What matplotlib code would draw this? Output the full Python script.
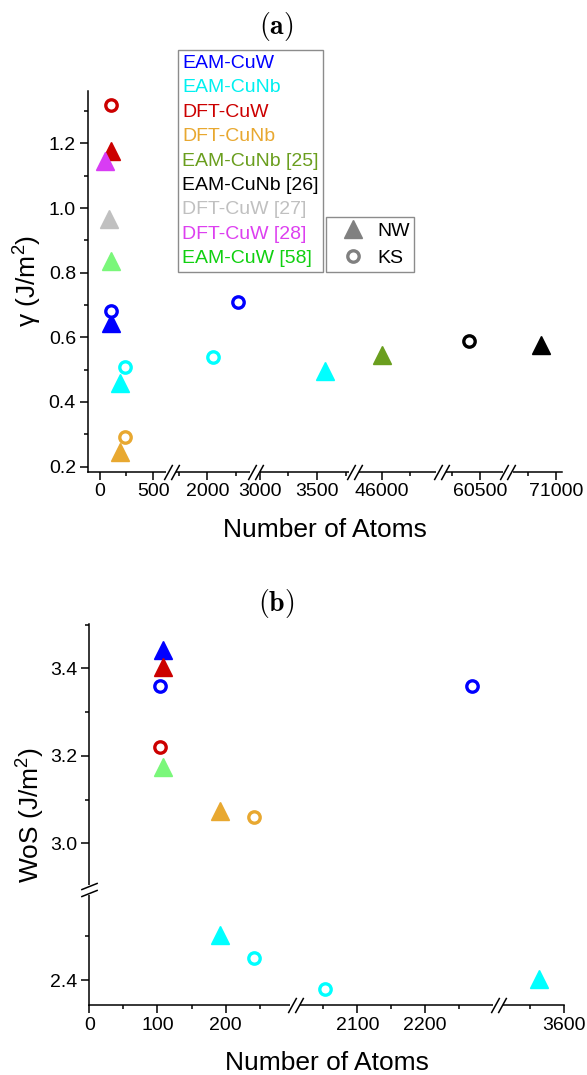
import numpy as np
import matplotlib
matplotlib.use('Agg')
import matplotlib.pyplot as plt
from matplotlib.lines import Line2D
from matplotlib.path import Path

plt.rcParams['font.family'] = ['Liberation Sans', 'DejaVu Sans']
plt.rcParams['mathtext.fontset'] = 'custom'
plt.rcParams['mathtext.rm'] = 'Liberation Sans'
plt.rcParams['mathtext.it'] = 'Liberation Sans:italic'
plt.rcParams['mathtext.bf'] = 'Liberation Sans:bold'

# legend entries and colours
series_names = ['EAM-CuW', 'EAM-CuNb', 'DFT-CuW', 'DFT-CuNb', 'EAM-CuNb [25]',
                'EAM-CuNb [26]', 'DFT-CuW [27]', 'DFT-CuW [28]', 'EAM-CuW [58]']
text_colors = ['#0000ff', '#00f0f0', '#cc0000', '#e8a830', '#6a9e1e',
               '#000000', '#c0c0c0', '#dd40f0', '#10d010']
marker_colors = ['#0000ff', '#00ffff', '#cc0000', '#e8a830', '#6a9e1e',
                 '#000000', '#c0c0c0', '#d83cf4', '#7af77a']

# (a) interface energy gamma
gamma_series = ['DFT-CuW', 'DFT-CuW', 'DFT-CuW [28]', 'DFT-CuW [27]', 'EAM-CuW [58]',
                'EAM-CuW', 'EAM-CuW', 'EAM-CuNb', 'EAM-CuNb', 'DFT-CuNb', 'DFT-CuNb',
                'EAM-CuW', 'EAM-CuNb', 'EAM-CuNb', 'EAM-CuNb [25]', 'EAM-CuNb [26]',
                'EAM-CuNb [26]']
gamma_kind = ['KS', 'NW', 'NW', 'NW', 'NW', 'KS', 'NW', 'KS', 'NW', 'KS', 'NW',
              'KS', 'KS', 'NW', 'NW', 'KS', 'NW']
gamma_atoms = [103, 108, 48, 85, 104, 103, 108, 241, 192, 241, 192,
               2270, 2052, 3565, 46000, 60400, 70870]
gamma_values = [1.32, 1.176, 1.146, 0.965, 0.835, 0.683, 0.645, 0.509, 0.458, 0.293, 0.246,
                0.71, 0.539, 0.495, 0.546, 0.588, 0.575]

# (b) work of separation
wos_series = ['EAM-CuW', 'DFT-CuW', 'EAM-CuW', 'DFT-CuW', 'EAM-CuW [58]', 'DFT-CuNb',
              'DFT-CuNb', 'EAM-CuW', 'EAM-CuNb', 'EAM-CuNb', 'EAM-CuNb', 'EAM-CuNb']
wos_kind = ['NW', 'NW', 'KS', 'KS', 'NW', 'NW', 'KS', 'KS', 'NW', 'KS', 'KS', 'NW']
wos_atoms = [108, 108, 103, 103, 108, 192, 241, 2270, 192, 241, 2052, 3563]
wos_values = [3.443, 3.404, 3.36, 3.22, 3.175, 3.074, 3.06, 3.36, 2.503, 2.451, 2.38, 2.403]

gamma_xticks = [0, 500, 2000, 3000, 3500, 46000, 60500, 71000]
gamma_xminor = [250, 1750, 2250, 3250, 3750, 46250, 60250, 70750]
gamma_yticks = [0.2, 0.4, 0.6, 0.8, 1.0, 1.2]
gamma_yminor = [0.3, 0.5, 0.7, 0.9, 1.1, 1.3]
wos_xticks = [0, 100, 200, 2100, 2200, 3600]
wos_xminor = [50, 150, 250, 2050, 2150, 2250, 3550]
wos_yticks = [2.4, 3.0, 3.2, 3.4]
wos_yminor = [2.5, 3.1, 3.3, 3.5]

W, H = 587, 1075

# broken axes: (data_lo, data_hi, px_lo, px_hi), figure pixels
gamma_xsegs = [(-110, 650, 87.7, 169.4), (1700, 2400, 173.2, 252.8),
               (2980, 3800, 257.2, 351.8), (45780, 46500, 356.8, 438.3),
               (60180, 60720, 443.8, 504.9), (70600, 71050, 510.7, 561.7)]
wos_xsegs = [(0, 298, 89.3, 292.5), (2012, 2303, 297.7, 494.7), (3508, 3600, 501.4, 564.0)]
# measured upwards from the bottom of panel (b) (y = 1005 px)
wos_ysegs = [(2.343, 2.6, 0.0, 112.3), (2.9, 3.502, 118.0, 381.1)]


def piecewise(segs):
    d = np.array([v for s in segs for v in s[:2]], float)
    p = np.array([v for s in segs for v in s[2:]], float)

    def interp(x, a, b):
        x = np.asarray(x, float)
        y = np.interp(x, a, b)
        y = np.where(x < a[0], b[0] + (x - a[0]) * (b[1] - b[0]) / (a[1] - a[0]), y)
        y = np.where(x > a[-1], b[-1] + (x - a[-1]) * (b[-1] - b[-2]) / (a[-1] - a[-2]), y)
        return y

    return (lambda x: interp(x, d, p)), (lambda q: interp(q, p, d))


def break_centers(segs):
    return [(segs[i][3] + segs[i + 1][2]) / 2 for i in range(len(segs) - 1)]


slash_x = Path([(-0.55, -1), (0.55, 1)], [Path.MOVETO, Path.LINETO])
slash_y = Path([(-1, -0.4), (1, 0.4)], [Path.MOVETO, Path.LINETO])


def draw_xbreak(ax, inv, c):
    tr = ax.get_xaxis_transform()
    ax.plot(inv([c - 5, c + 5]), [0, 0], color='white', lw=3, transform=tr,
            clip_on=False, zorder=5, solid_capstyle='butt')
    for off in (-3.5, 3.5):
        ax.plot(inv([c + off]), [0], ls='none', marker=slash_x, ms=11, mec='black',
                mew=1.1, transform=tr, clip_on=False, zorder=6)


def draw_ybreak(ax, inv, c):
    tr = ax.get_yaxis_transform()
    ax.plot([0, 0], inv([c - 5, c + 5]), color='white', lw=3, transform=tr,
            clip_on=False, zorder=5, solid_capstyle='butt')
    for off in (-3.5, 3.5):
        ax.plot([0], inv([c + off]), ls='none', marker=slash_y, ms=12, mec='black',
                mew=1.1, transform=tr, clip_on=False, zorder=6)


def draw_points(ax, names, kinds, xs, ys):
    for kind in ('NW', 'KS'):
        for s, k, x, y in zip(names, kinds, xs, ys):
            if k != kind:
                continue
            c = marker_colors[series_names.index(s)]
            if k == 'NW':
                ax.plot(x, y, ls='none', marker='^', ms=13, color=c, clip_on=False, zorder=3)
            else:
                ax.plot(x, y, ls='none', marker='o', ms=8.2, mfc='white', mec=c,
                        mew=2.4, clip_on=False, zorder=4)


def style_axes(ax):
    for side in ('top', 'right'):
        ax.spines[side].set_visible(False)
    for side in ('left', 'bottom'):
        ax.spines[side].set_linewidth(1.1)
    ax.tick_params(which='major', direction='out', length=5.5, width=1.1,
                   labelsize=14, pad=3)
    ax.tick_params(which='minor', direction='out', length=3, width=1.1)


fig = plt.figure(figsize=(W / 100, H / 100), dpi=100)

# ---- panel (a)
fa, ia = piecewise(gamma_xsegs)
x0, x1 = gamma_xsegs[0][2], gamma_xsegs[-1][3]
ax_a = fig.add_axes([x0 / W, 1 - 471.5 / H, (x1 - x0) / W, (471.5 - 90.7) / H])
ax_a.set_xscale('function', functions=(fa, ia))
draw_points(ax_a, gamma_series, gamma_kind, gamma_atoms, gamma_values)
ax_a.set_xlim(gamma_xsegs[0][0], gamma_xsegs[-1][1])
ax_a.set_ylim(0.185, 1.363)
ax_a.set_xticks(gamma_xticks, labels=[str(v) for v in gamma_xticks])
ax_a.set_xticks(gamma_xminor, minor=True)
ax_a.set_yticks(gamma_yticks, labels=['%.1f' % v for v in gamma_yticks])
ax_a.set_yticks(gamma_yminor, minor=True)
style_axes(ax_a)
for c in break_centers(gamma_xsegs):
    draw_xbreak(ax_a, ia, c)
ax_a.set_xlabel('Number of Atoms', fontsize=19)
ax_a.xaxis.set_label_coords(0.5, -(530 - 471.5) / (471.5 - 90.7))
ax_a.xaxis.label.set_va('center')
ax_a.set_ylabel('γ (J/m$^2$)', fontsize=19)
ax_a.yaxis.set_label_coords((28 - x0) / (x1 - x0), 0.5)
ax_a.yaxis.label.set_va('center')

# ---- panel (b)
fb, ib = piecewise(wos_xsegs)
fy, iy = piecewise(wos_ysegs)
bx0, bx1 = wos_xsegs[0][2], wos_xsegs[-1][3]
by_top = 1005 - wos_ysegs[-1][3]
ax_b = fig.add_axes([bx0 / W, 1 - 1005 / H, (bx1 - bx0) / W, (1005 - by_top) / H])
ax_b.set_xscale('function', functions=(fb, ib))
ax_b.set_yscale('function', functions=(fy, iy))
draw_points(ax_b, wos_series, wos_kind, wos_atoms, wos_values)
ax_b.set_xlim(wos_xsegs[0][0], wos_xsegs[-1][1])
ax_b.set_ylim(wos_ysegs[0][0], wos_ysegs[-1][1])
ax_b.set_xticks(wos_xticks, labels=[str(v) for v in wos_xticks])
ax_b.set_xticks(wos_xminor, minor=True)
ax_b.set_yticks(wos_yticks, labels=['%.1f' % v for v in wos_yticks])
ax_b.set_yticks(wos_yminor, minor=True)
style_axes(ax_b)
for c in break_centers(wos_xsegs):
    draw_xbreak(ax_b, ib, c)
for c in break_centers(wos_ysegs):
    draw_ybreak(ax_b, iy, c)
ax_b.set_xlabel('Number of Atoms', fontsize=19)
ax_b.xaxis.set_label_coords(0.5, -(1063 - 1005) / (1005 - by_top))
ax_b.xaxis.label.set_va('center')
ax_b.set_ylabel('WoS (J/m$^2$)', fontsize=19)
ax_b.yaxis.set_label_coords((31 - bx0) / (bx1 - bx0), 0.5)
ax_b.yaxis.label.set_va('center')

# ---- legends
text_handles = [Line2D([], [], ls='none') for _ in series_names]
leg1 = fig.legend(text_handles, series_names, labelcolor=text_colors, loc='upper left',
                  bbox_to_anchor=(178.2 / W, 1 - 50 / H), handlelength=0, handletextpad=0,
                  fontsize=14, labelspacing=0.35, borderpad=0.22, borderaxespad=0,
                  fancybox=False, edgecolor='#8c8c8c', framealpha=1)
leg1.get_frame().set_linewidth(1.0)

shape_handles = [Line2D([], [], ls='none', marker='^', ms=13, color='#808080'),
                 Line2D([], [], ls='none', marker='o', ms=8.2, mfc='white',
                        mec='#808080', mew=2.4)]
leg2 = fig.legend(shape_handles, ['NW', 'KS'], loc='upper left',
                  bbox_to_anchor=(325.7 / W, 1 - 217.3 / H), handlelength=2.28,
                  handletextpad=0.11, fontsize=14, labelspacing=0.5, borderpad=0.25,
                  borderaxespad=0, fancybox=False, edgecolor='#8c8c8c', framealpha=1)
leg2.get_frame().set_linewidth(1.0)

# ---- panel titles
fig.text(276.5 / W, 1 - 26.7 / H, r'$\mathbf{(a)}$', math_fontfamily='cm',
         fontsize=20, ha='center', va='center')
fig.text(276.5 / W, 1 - 603.3 / H, r'$\mathbf{(b)}$', math_fontfamily='cm',
         fontsize=20, ha='center', va='center')

fig.savefig('out.png', dpi=100)
